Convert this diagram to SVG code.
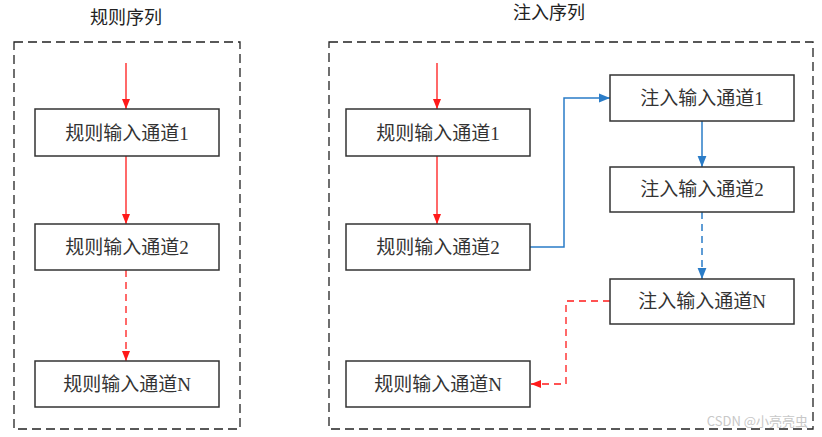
<svg xmlns="http://www.w3.org/2000/svg" width="822" height="437" viewBox="0 0 822 437">
<defs>
<style>
.frame{fill:none;stroke:#222;stroke-width:1.3;stroke-dasharray:9 5}
.node{fill:#fff;stroke:#333;stroke-width:1.5}
.lbl{font-family:"Liberation Serif","Noto Sans CJK SC",serif;font-size:19px;fill:#333;text-anchor:middle;dominant-baseline:central}
.title{font-family:"Liberation Serif","Noto Sans CJK SC",serif;font-size:18px;fill:#222;text-anchor:middle}
.red{fill:none;stroke:#ff1a1a;stroke-width:1.3}
.blue{fill:none;stroke:#2a7cc7;stroke-width:1.5}
.dash{stroke-dasharray:7 5}
</style>
<marker id="ar" viewBox="0 0 10 10" refX="10" refY="5" markerWidth="10" markerHeight="10" markerUnits="userSpaceOnUse" orient="auto"><path d="M0,1 L10,5 L0,9 Z" fill="#ff1a1a"/></marker>
<marker id="ab" viewBox="0 0 10 10" refX="10" refY="5" markerWidth="11" markerHeight="11" markerUnits="userSpaceOnUse" orient="auto"><path d="M0,1 L10,5 L0,9 Z" fill="#2a7cc7"/></marker>
</defs>
<rect width="822" height="437" fill="#fff"/>
<g id="frames">
<rect class="frame" x="14" y="42" width="226" height="387"/>
<rect class="frame" x="329" y="42" width="484" height="387"/>
<text class="title" x="126" y="24">规则序列</text>
<text class="title" x="549" y="19">注入序列</text>
</g>
<g id="connectors">
<line class="red" x1="126" y1="63" x2="126" y2="109" marker-end="url(#ar)"/>
<line class="red" x1="126" y1="156" x2="126" y2="224" marker-end="url(#ar)"/>
<line class="red dash" x1="126" y1="270" x2="126" y2="361" marker-end="url(#ar)"/>
<line class="red" x1="437" y1="63" x2="437" y2="109" marker-end="url(#ar)"/>
<line class="red" x1="437" y1="156" x2="437" y2="224" marker-end="url(#ar)"/>
<polyline class="blue" points="530,247 564,247 564,98 610,98" marker-end="url(#ab)"/>
<line class="blue" x1="702" y1="121" x2="702" y2="167" marker-end="url(#ab)"/>
<line class="blue dash" x1="702" y1="212" x2="702" y2="279" marker-end="url(#ab)"/>
<polyline class="red dash" points="610,301 566,301 566,384 531,384" marker-end="url(#ar)"/>
</g>
<g id="L1"><rect class="node" x="35" y="109" width="184" height="47"/><text class="lbl" x="127" y="133">规则输入通道1</text></g>
<g id="L2"><rect class="node" x="35" y="224" width="184" height="46"/><text class="lbl" x="127" y="247">规则输入通道2</text></g>
<g id="LN"><rect class="node" x="35" y="361" width="184" height="46"/><text class="lbl" x="127" y="384">规则输入通道N</text></g>
<g id="R1"><rect class="node" x="346" y="109" width="184" height="47"/><text class="lbl" x="438" y="133">规则输入通道1</text></g>
<g id="R2"><rect class="node" x="346" y="224" width="184" height="46"/><text class="lbl" x="438" y="247">规则输入通道2</text></g>
<g id="RN"><rect class="node" x="346" y="361" width="184" height="46"/><text class="lbl" x="438" y="384">规则输入通道N</text></g>
<g id="I1"><rect class="node" x="610" y="75" width="184" height="46"/><text class="lbl" x="702" y="98">注入输入通道1</text></g>
<g id="I2"><rect class="node" x="610" y="167" width="184" height="45"/><text class="lbl" x="702" y="189">注入输入通道2</text></g>
<g id="IN"><rect class="node" x="610" y="279" width="184" height="45"/><text class="lbl" x="702" y="301">注入输入通道N</text></g>
<text x="808" y="426" font-family="'Noto Sans CJK SC',sans-serif" font-size="13" fill="#c8c8c8" text-anchor="end">CSDN @小亮亮虫</text>
</svg>
